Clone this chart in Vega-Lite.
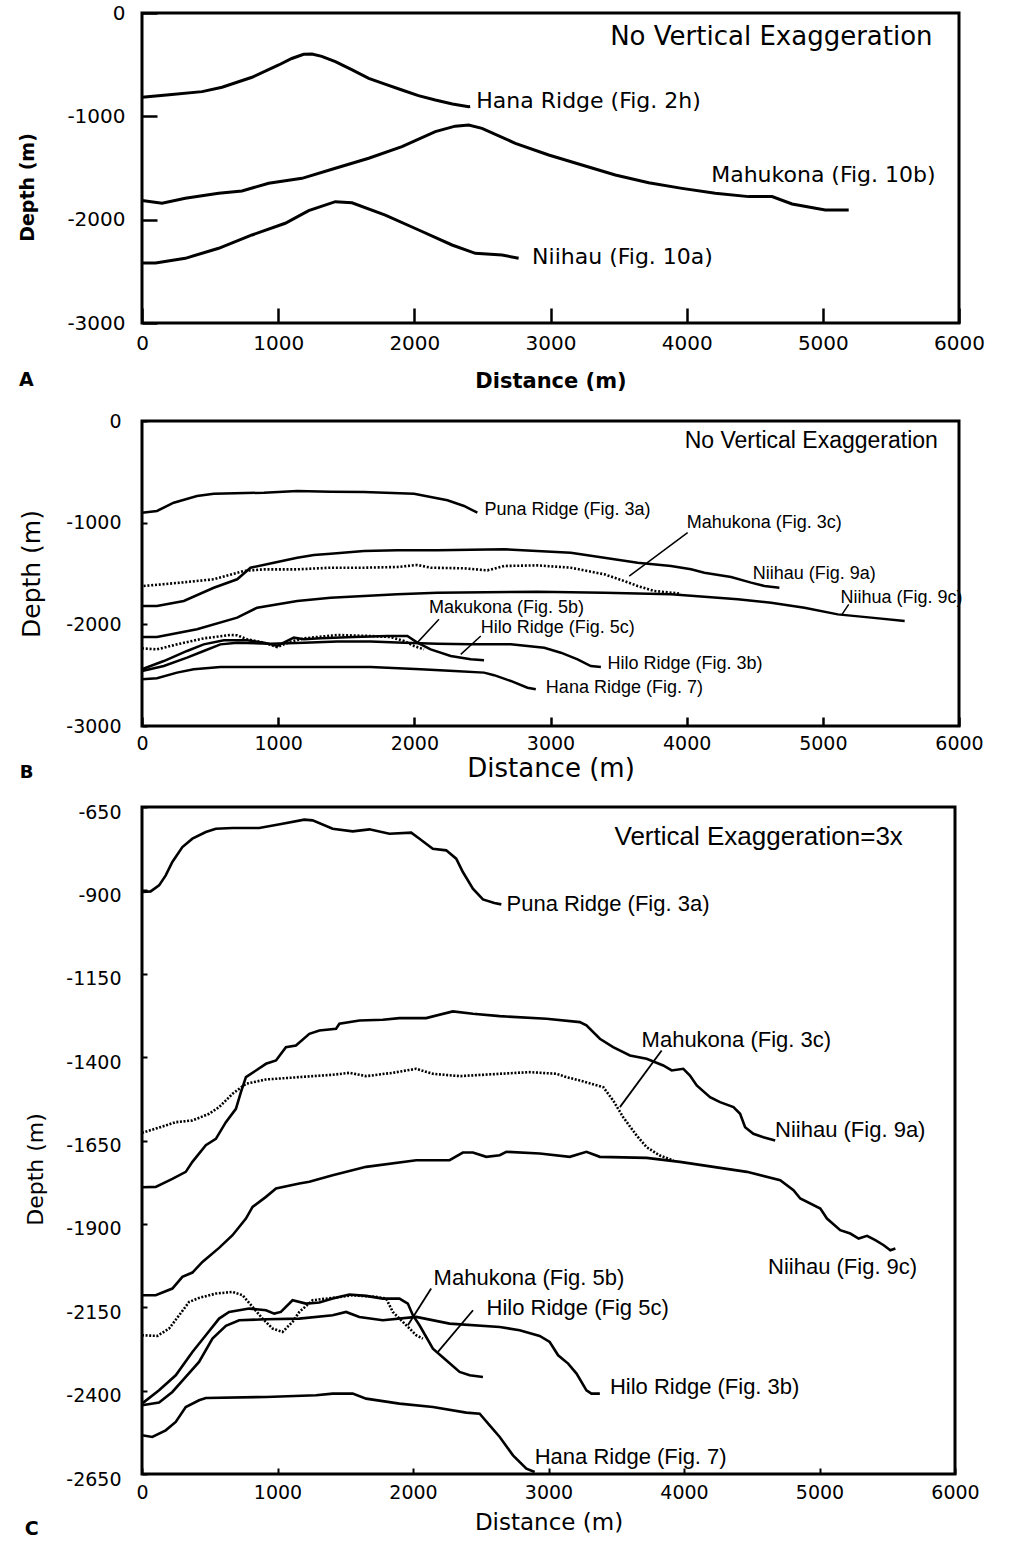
{
"$schema": "https://vega.github.io/schema/vega-lite/v6.json",
"background": "white",
"padding": {"left": 17, "top": 1, "right": 0, "bottom": 0},
"spacing": 17,
"config": {
  "view": {"stroke": "black", "strokeWidth": 3},
  "axis": {"grid": false, "domain": false, "labelColor": "black", "titleColor": "black", "tickColor": "black", "labelFlush": false, "labelOverlap": false, "titleFontWeight": "normal"},
  "title": {"color": "black"}
},
"datasets": {
  "A_profiles": [
    {"profile":"Hana Ridge (Fig. 2h)","distance":0,"depth":-815},{"profile":"Hana Ridge (Fig. 2h)","distance":200,"depth":-790},{"profile":"Hana Ridge (Fig. 2h)","distance":441,"depth":-761},{"profile":"Hana Ridge (Fig. 2h)","distance":588,"depth":-719},{"profile":"Hana Ridge (Fig. 2h)","distance":808,"depth":-622},{"profile":"Hana Ridge (Fig. 2h)","distance":1004,"depth":-503},{"profile":"Hana Ridge (Fig. 2h)","distance":1100,"depth":-440},{"profile":"Hana Ridge (Fig. 2h)","distance":1187,"depth":-400},{"profile":"Hana Ridge (Fig. 2h)","distance":1248,"depth":-397},{"profile":"Hana Ridge (Fig. 2h)","distance":1320,"depth":-420},{"profile":"Hana Ridge (Fig. 2h)","distance":1420,"depth":-471},{"profile":"Hana Ridge (Fig. 2h)","distance":1540,"depth":-548},{"profile":"Hana Ridge (Fig. 2h)","distance":1665,"depth":-632},{"profile":"Hana Ridge (Fig. 2h)","distance":1790,"depth":-690},{"profile":"Hana Ridge (Fig. 2h)","distance":1909,"depth":-745},{"profile":"Hana Ridge (Fig. 2h)","distance":2030,"depth":-800},{"profile":"Hana Ridge (Fig. 2h)","distance":2154,"depth":-842},{"profile":"Hana Ridge (Fig. 2h)","distance":2280,"depth":-880},{"profile":"Hana Ridge (Fig. 2h)","distance":2399,"depth":-907},{"profile":"Hana Ridge (Fig. 2h)","distance":2410,"depth":-905},
    {"profile":"Mahukona (Fig. 10b)","distance":0,"depth":-1815},{"profile":"Mahukona (Fig. 10b)","distance":147,"depth":-1842},{"profile":"Mahukona (Fig. 10b)","distance":318,"depth":-1793},{"profile":"Mahukona (Fig. 10b)","distance":563,"depth":-1745},{"profile":"Mahukona (Fig. 10b)","distance":734,"depth":-1722},{"profile":"Mahukona (Fig. 10b)","distance":930,"depth":-1648},{"profile":"Mahukona (Fig. 10b)","distance":1175,"depth":-1600},{"profile":"Mahukona (Fig. 10b)","distance":1420,"depth":-1503},{"profile":"Mahukona (Fig. 10b)","distance":1665,"depth":-1406},{"profile":"Mahukona (Fig. 10b)","distance":1909,"depth":-1294},{"profile":"Mahukona (Fig. 10b)","distance":2154,"depth":-1148},{"profile":"Mahukona (Fig. 10b)","distance":2300,"depth":-1095},{"profile":"Mahukona (Fig. 10b)","distance":2399,"depth":-1084},{"profile":"Mahukona (Fig. 10b)","distance":2497,"depth":-1116},{"profile":"Mahukona (Fig. 10b)","distance":2742,"depth":-1261},{"profile":"Mahukona (Fig. 10b)","distance":2987,"depth":-1374},{"profile":"Mahukona (Fig. 10b)","distance":3231,"depth":-1471},{"profile":"Mahukona (Fig. 10b)","distance":3476,"depth":-1568},{"profile":"Mahukona (Fig. 10b)","distance":3721,"depth":-1642},{"profile":"Mahukona (Fig. 10b)","distance":3966,"depth":-1697},{"profile":"Mahukona (Fig. 10b)","distance":4210,"depth":-1745},{"profile":"Mahukona (Fig. 10b)","distance":4455,"depth":-1777},{"profile":"Mahukona (Fig. 10b)","distance":4627,"depth":-1777},{"profile":"Mahukona (Fig. 10b)","distance":4774,"depth":-1848},{"profile":"Mahukona (Fig. 10b)","distance":5018,"depth":-1906},{"profile":"Mahukona (Fig. 10b)","distance":5190,"depth":-1906},
    {"profile":"Niihau (Fig. 10a)","distance":0,"depth":-2420},{"profile":"Niihau (Fig. 10a)","distance":100,"depth":-2420},{"profile":"Niihau (Fig. 10a)","distance":318,"depth":-2374},{"profile":"Niihau (Fig. 10a)","distance":563,"depth":-2277},{"profile":"Niihau (Fig. 10a)","distance":808,"depth":-2148},{"profile":"Niihau (Fig. 10a)","distance":1052,"depth":-2035},{"profile":"Niihau (Fig. 10a)","distance":1224,"depth":-1913},{"profile":"Niihau (Fig. 10a)","distance":1420,"depth":-1826},{"profile":"Niihau (Fig. 10a)","distance":1542,"depth":-1836},{"profile":"Niihau (Fig. 10a)","distance":1787,"depth":-1955},{"profile":"Niihau (Fig. 10a)","distance":2032,"depth":-2100},{"profile":"Niihau (Fig. 10a)","distance":2277,"depth":-2245},{"profile":"Niihau (Fig. 10a)","distance":2448,"depth":-2326},{"profile":"Niihau (Fig. 10a)","distance":2644,"depth":-2342},{"profile":"Niihau (Fig. 10a)","distance":2766,"depth":-2374}
  ],
  "A_labels": [
    {"label":"Hana Ridge (Fig. 2h)","distance":2455,"depth":-852},
    {"label":"Mahukona (Fig. 10b)","distance":4180,"depth":-1568},
    {"label":"Niihau (Fig. 10a)","distance":2865,"depth":-2360}
  ],
  "A_note": [{"label":"No Vertical Exaggeration","distance":4622,"depth":-232}],
  "B_profiles": [
    {"profile":"Puna Ridge (Fig. 3a)","distance":0,"depth":-902},{"profile":"Puna Ridge (Fig. 3a)","distance":110,"depth":-885},{"profile":"Puna Ridge (Fig. 3a)","distance":233,"depth":-804},{"profile":"Puna Ridge (Fig. 3a)","distance":404,"depth":-738},{"profile":"Puna Ridge (Fig. 3a)","distance":527,"depth":-715},{"profile":"Puna Ridge (Fig. 3a)","distance":895,"depth":-705},{"profile":"Puna Ridge (Fig. 3a)","distance":1140,"depth":-689},{"profile":"Puna Ridge (Fig. 3a)","distance":1385,"depth":-695},{"profile":"Puna Ridge (Fig. 3a)","distance":1630,"depth":-698},{"profile":"Puna Ridge (Fig. 3a)","distance":1998,"depth":-715},{"profile":"Puna Ridge (Fig. 3a)","distance":2120,"depth":-748},{"profile":"Puna Ridge (Fig. 3a)","distance":2243,"depth":-780},{"profile":"Puna Ridge (Fig. 3a)","distance":2365,"depth":-836},{"profile":"Puna Ridge (Fig. 3a)","distance":2463,"depth":-902},
    {"profile":"Niihau (Fig. 9a)","distance":0,"depth":-1820},{"profile":"Niihau (Fig. 9a)","distance":110,"depth":-1820},{"profile":"Niihau (Fig. 9a)","distance":307,"depth":-1770},{"profile":"Niihau (Fig. 9a)","distance":527,"depth":-1640},{"profile":"Niihau (Fig. 9a)","distance":699,"depth":-1557},{"profile":"Niihau (Fig. 9a)","distance":797,"depth":-1443},{"profile":"Niihau (Fig. 9a)","distance":968,"depth":-1394},{"profile":"Niihau (Fig. 9a)","distance":1140,"depth":-1345},{"profile":"Niihau (Fig. 9a)","distance":1262,"depth":-1318},{"profile":"Niihau (Fig. 9a)","distance":1385,"depth":-1305},{"profile":"Niihau (Fig. 9a)","distance":1630,"depth":-1279},{"profile":"Niihau (Fig. 9a)","distance":1875,"depth":-1272},{"profile":"Niihau (Fig. 9a)","distance":2169,"depth":-1272},{"profile":"Niihau (Fig. 9a)","distance":2660,"depth":-1262},{"profile":"Niihau (Fig. 9a)","distance":3149,"depth":-1295},{"profile":"Niihau (Fig. 9a)","distance":3395,"depth":-1345},{"profile":"Niihau (Fig. 9a)","distance":3640,"depth":-1394},{"profile":"Niihau (Fig. 9a)","distance":3885,"depth":-1426},{"profile":"Niihau (Fig. 9a)","distance":4032,"depth":-1459},{"profile":"Niihau (Fig. 9a)","distance":4130,"depth":-1492},{"profile":"Niihau (Fig. 9a)","distance":4326,"depth":-1534},{"profile":"Niihau (Fig. 9a)","distance":4473,"depth":-1590},{"profile":"Niihau (Fig. 9a)","distance":4571,"depth":-1623},{"profile":"Niihau (Fig. 9a)","distance":4681,"depth":-1640},
    {"profile":"Mahukona (Fig. 3c)","distance":12,"depth":-1623},{"profile":"Mahukona (Fig. 3c)","distance":282,"depth":-1590},{"profile":"Mahukona (Fig. 3c)","distance":527,"depth":-1557},{"profile":"Mahukona (Fig. 3c)","distance":748,"depth":-1475},{"profile":"Mahukona (Fig. 3c)","distance":895,"depth":-1459},{"profile":"Mahukona (Fig. 3c)","distance":1140,"depth":-1459},{"profile":"Mahukona (Fig. 3c)","distance":1385,"depth":-1443},{"profile":"Mahukona (Fig. 3c)","distance":1630,"depth":-1443},{"profile":"Mahukona (Fig. 3c)","distance":1875,"depth":-1436},{"profile":"Mahukona (Fig. 3c)","distance":2022,"depth":-1416},{"profile":"Mahukona (Fig. 3c)","distance":2120,"depth":-1443},{"profile":"Mahukona (Fig. 3c)","distance":2365,"depth":-1449},{"profile":"Mahukona (Fig. 3c)","distance":2537,"depth":-1469},{"profile":"Mahukona (Fig. 3c)","distance":2660,"depth":-1426},{"profile":"Mahukona (Fig. 3c)","distance":2904,"depth":-1420},{"profile":"Mahukona (Fig. 3c)","distance":3149,"depth":-1443},{"profile":"Mahukona (Fig. 3c)","distance":3395,"depth":-1508},{"profile":"Mahukona (Fig. 3c)","distance":3542,"depth":-1574},{"profile":"Mahukona (Fig. 3c)","distance":3640,"depth":-1623},{"profile":"Mahukona (Fig. 3c)","distance":3762,"depth":-1672},{"profile":"Mahukona (Fig. 3c)","distance":3958,"depth":-1698},
    {"profile":"Niihau (Fig. 9c)","distance":0,"depth":-2125},{"profile":"Niihau (Fig. 9c)","distance":110,"depth":-2125},{"profile":"Niihau (Fig. 9c)","distance":404,"depth":-2049},{"profile":"Niihau (Fig. 9c)","distance":699,"depth":-1934},{"profile":"Niihau (Fig. 9c)","distance":846,"depth":-1836},{"profile":"Niihau (Fig. 9c)","distance":1140,"depth":-1770},{"profile":"Niihau (Fig. 9c)","distance":1385,"depth":-1738},{"profile":"Niihau (Fig. 9c)","distance":1630,"depth":-1721},{"profile":"Niihau (Fig. 9c)","distance":1875,"depth":-1705},{"profile":"Niihau (Fig. 9c)","distance":2169,"depth":-1689},{"profile":"Niihau (Fig. 9c)","distance":2904,"depth":-1679},{"profile":"Niihau (Fig. 9c)","distance":3395,"depth":-1689},{"profile":"Niihau (Fig. 9c)","distance":3885,"depth":-1705},{"profile":"Niihau (Fig. 9c)","distance":4375,"depth":-1754},{"profile":"Niihau (Fig. 9c)","distance":4620,"depth":-1787},{"profile":"Niihau (Fig. 9c)","distance":4865,"depth":-1836},{"profile":"Niihau (Fig. 9c)","distance":5110,"depth":-1902},{"profile":"Niihau (Fig. 9c)","distance":5355,"depth":-1934},{"profile":"Niihau (Fig. 9c)","distance":5601,"depth":-1967},
    {"profile":"Mahukona (Fig. 5b)","distance":0,"depth":-2236},{"profile":"Mahukona (Fig. 5b)","distance":110,"depth":-2246},{"profile":"Mahukona (Fig. 5b)","distance":257,"depth":-2197},{"profile":"Mahukona (Fig. 5b)","distance":453,"depth":-2138},{"profile":"Mahukona (Fig. 5b)","distance":649,"depth":-2105},{"profile":"Mahukona (Fig. 5b)","distance":699,"depth":-2108},{"profile":"Mahukona (Fig. 5b)","distance":772,"depth":-2147},{"profile":"Mahukona (Fig. 5b)","distance":895,"depth":-2180},{"profile":"Mahukona (Fig. 5b)","distance":993,"depth":-2223},{"profile":"Mahukona (Fig. 5b)","distance":1091,"depth":-2171},{"profile":"Mahukona (Fig. 5b)","distance":1189,"depth":-2138},{"profile":"Mahukona (Fig. 5b)","distance":1434,"depth":-2105},{"profile":"Mahukona (Fig. 5b)","distance":1679,"depth":-2115},{"profile":"Mahukona (Fig. 5b)","distance":1826,"depth":-2125},{"profile":"Mahukona (Fig. 5b)","distance":1924,"depth":-2164},{"profile":"Mahukona (Fig. 5b)","distance":1998,"depth":-2213},{"profile":"Mahukona (Fig. 5b)","distance":2071,"depth":-2246},
    {"profile":"Hilo Ridge (Fig. 5c)","distance":0,"depth":-2442},{"profile":"Hilo Ridge (Fig. 5c)","distance":160,"depth":-2361},{"profile":"Hilo Ridge (Fig. 5c)","distance":331,"depth":-2262},{"profile":"Hilo Ridge (Fig. 5c)","distance":453,"depth":-2197},{"profile":"Hilo Ridge (Fig. 5c)","distance":601,"depth":-2157},{"profile":"Hilo Ridge (Fig. 5c)","distance":772,"depth":-2157},{"profile":"Hilo Ridge (Fig. 5c)","distance":895,"depth":-2180},{"profile":"Hilo Ridge (Fig. 5c)","distance":993,"depth":-2213},{"profile":"Hilo Ridge (Fig. 5c)","distance":1115,"depth":-2131},{"profile":"Hilo Ridge (Fig. 5c)","distance":1189,"depth":-2147},{"profile":"Hilo Ridge (Fig. 5c)","distance":1311,"depth":-2138},{"profile":"Hilo Ridge (Fig. 5c)","distance":1556,"depth":-2125},{"profile":"Hilo Ridge (Fig. 5c)","distance":1801,"depth":-2115},{"profile":"Hilo Ridge (Fig. 5c)","distance":1949,"depth":-2115},{"profile":"Hilo Ridge (Fig. 5c)","distance":2022,"depth":-2180},{"profile":"Hilo Ridge (Fig. 5c)","distance":2120,"depth":-2246},{"profile":"Hilo Ridge (Fig. 5c)","distance":2267,"depth":-2311},{"profile":"Hilo Ridge (Fig. 5c)","distance":2414,"depth":-2344},{"profile":"Hilo Ridge (Fig. 5c)","distance":2512,"depth":-2354},
    {"profile":"Hilo Ridge (Fig. 3b)","distance":0,"depth":-2459},{"profile":"Hilo Ridge (Fig. 3b)","distance":160,"depth":-2410},{"profile":"Hilo Ridge (Fig. 3b)","distance":331,"depth":-2328},{"profile":"Hilo Ridge (Fig. 3b)","distance":453,"depth":-2262},{"profile":"Hilo Ridge (Fig. 3b)","distance":576,"depth":-2197},{"profile":"Hilo Ridge (Fig. 3b)","distance":699,"depth":-2180},{"profile":"Hilo Ridge (Fig. 3b)","distance":943,"depth":-2190},{"profile":"Hilo Ridge (Fig. 3b)","distance":1189,"depth":-2180},{"profile":"Hilo Ridge (Fig. 3b)","distance":1434,"depth":-2170},{"profile":"Hilo Ridge (Fig. 3b)","distance":1679,"depth":-2170},{"profile":"Hilo Ridge (Fig. 3b)","distance":1924,"depth":-2180},{"profile":"Hilo Ridge (Fig. 3b)","distance":2169,"depth":-2190},{"profile":"Hilo Ridge (Fig. 3b)","distance":2414,"depth":-2197},{"profile":"Hilo Ridge (Fig. 3b)","distance":2708,"depth":-2197},{"profile":"Hilo Ridge (Fig. 3b)","distance":2954,"depth":-2230},{"profile":"Hilo Ridge (Fig. 3b)","distance":3076,"depth":-2279},{"profile":"Hilo Ridge (Fig. 3b)","distance":3199,"depth":-2344},{"profile":"Hilo Ridge (Fig. 3b)","distance":3296,"depth":-2410},{"profile":"Hilo Ridge (Fig. 3b)","distance":3370,"depth":-2420},
    {"profile":"Hana Ridge (Fig. 7)","distance":0,"depth":-2541},{"profile":"Hana Ridge (Fig. 7)","distance":110,"depth":-2531},{"profile":"Hana Ridge (Fig. 7)","distance":257,"depth":-2475},{"profile":"Hana Ridge (Fig. 7)","distance":380,"depth":-2442},{"profile":"Hana Ridge (Fig. 7)","distance":576,"depth":-2420},{"profile":"Hana Ridge (Fig. 7)","distance":943,"depth":-2420},{"profile":"Hana Ridge (Fig. 7)","distance":1434,"depth":-2420},{"profile":"Hana Ridge (Fig. 7)","distance":1679,"depth":-2420},{"profile":"Hana Ridge (Fig. 7)","distance":2047,"depth":-2442},{"profile":"Hana Ridge (Fig. 7)","distance":2292,"depth":-2459},{"profile":"Hana Ridge (Fig. 7)","distance":2512,"depth":-2475},{"profile":"Hana Ridge (Fig. 7)","distance":2586,"depth":-2500},{"profile":"Hana Ridge (Fig. 7)","distance":2708,"depth":-2557},{"profile":"Hana Ridge (Fig. 7)","distance":2831,"depth":-2623},{"profile":"Hana Ridge (Fig. 7)","distance":2892,"depth":-2639}
  ],
  "B_labels": [
    {"label":"Puna Ridge (Fig. 3a)","distance":2515,"depth":-878},
    {"label":"Mahukona (Fig. 3c)","distance":4000,"depth":-1006},
    {"label":"Niihau (Fig. 9a)","distance":4485,"depth":-1508},
    {"label":"Niihua (Fig. 9c)","distance":5130,"depth":-1738},
    {"label":"Makukona (Fig. 5b)","distance":2108,"depth":-1836},
    {"label":"Hilo Ridge (Fig. 5c)","distance":2488,"depth":-2033},
    {"label":"Hilo Ridge (Fig. 3b)","distance":3419,"depth":-2393},
    {"label":"Hana Ridge (Fig. 7)","distance":2966,"depth":-2623}
  ],
  "B_note": [{"label":"No Vertical Exaggeration","distance":4915,"depth":-197}],
  "B_leaders": [
    {"distance":4007,"depth":-1098,"distance2":3578,"depth2":-1525},
    {"distance":5190,"depth":-1803,"distance2":5141,"depth2":-1902},
    {"distance":2181,"depth":-1951,"distance2":2022,"depth2":-2180},
    {"distance":2488,"depth":-2115,"distance2":2341,"depth2":-2295}
  ],
  "C_profiles": [
    {"profile":"Puna Ridge (Fig. 3a)","distance":0,"depth":-905},{"profile":"Puna Ridge (Fig. 3a)","distance":64,"depth":-903},{"profile":"Puna Ridge (Fig. 3a)","distance":126,"depth":-885},{"profile":"Puna Ridge (Fig. 3a)","distance":175,"depth":-855},{"profile":"Puna Ridge (Fig. 3a)","distance":224,"depth":-815},{"profile":"Puna Ridge (Fig. 3a)","distance":298,"depth":-770},{"profile":"Puna Ridge (Fig. 3a)","distance":372,"depth":-745},{"profile":"Puna Ridge (Fig. 3a)","distance":471,"depth":-725},{"profile":"Puna Ridge (Fig. 3a)","distance":545,"depth":-715},{"profile":"Puna Ridge (Fig. 3a)","distance":668,"depth":-713},{"profile":"Puna Ridge (Fig. 3a)","distance":865,"depth":-713},{"profile":"Puna Ridge (Fig. 3a)","distance":1037,"depth":-700},{"profile":"Puna Ridge (Fig. 3a)","distance":1198,"depth":-688},{"profile":"Puna Ridge (Fig. 3a)","distance":1259,"depth":-690},{"profile":"Puna Ridge (Fig. 3a)","distance":1407,"depth":-715},{"profile":"Puna Ridge (Fig. 3a)","distance":1555,"depth":-723},{"profile":"Puna Ridge (Fig. 3a)","distance":1678,"depth":-717},{"profile":"Puna Ridge (Fig. 3a)","distance":1826,"depth":-730},{"profile":"Puna Ridge (Fig. 3a)","distance":1987,"depth":-727},{"profile":"Puna Ridge (Fig. 3a)","distance":2048,"depth":-745},{"profile":"Puna Ridge (Fig. 3a)","distance":2146,"depth":-775},{"profile":"Puna Ridge (Fig. 3a)","distance":2245,"depth":-780},{"profile":"Puna Ridge (Fig. 3a)","distance":2319,"depth":-805},{"profile":"Puna Ridge (Fig. 3a)","distance":2368,"depth":-845},{"profile":"Puna Ridge (Fig. 3a)","distance":2442,"depth":-895},{"profile":"Puna Ridge (Fig. 3a)","distance":2516,"depth":-927},{"profile":"Puna Ridge (Fig. 3a)","distance":2600,"depth":-938},{"profile":"Puna Ridge (Fig. 3a)","distance":2652,"depth":-942},
    {"profile":"Niihau (Fig. 9a)","distance":0,"depth":-1790},{"profile":"Niihau (Fig. 9a)","distance":101,"depth":-1789},{"profile":"Niihau (Fig. 9a)","distance":224,"depth":-1765},{"profile":"Niihau (Fig. 9a)","distance":323,"depth":-1744},{"profile":"Niihau (Fig. 9a)","distance":372,"depth":-1714},{"profile":"Niihau (Fig. 9a)","distance":471,"depth":-1664},{"profile":"Niihau (Fig. 9a)","distance":545,"depth":-1645},{"profile":"Niihau (Fig. 9a)","distance":619,"depth":-1595},{"profile":"Niihau (Fig. 9a)","distance":693,"depth":-1555},{"profile":"Niihau (Fig. 9a)","distance":730,"depth":-1505},{"profile":"Niihau (Fig. 9a)","distance":767,"depth":-1460},{"profile":"Niihau (Fig. 9a)","distance":841,"depth":-1440},{"profile":"Niihau (Fig. 9a)","distance":915,"depth":-1420},{"profile":"Niihau (Fig. 9a)","distance":989,"depth":-1410},{"profile":"Niihau (Fig. 9a)","distance":1062,"depth":-1370},{"profile":"Niihau (Fig. 9a)","distance":1136,"depth":-1365},{"profile":"Niihau (Fig. 9a)","distance":1235,"depth":-1330},{"profile":"Niihau (Fig. 9a)","distance":1309,"depth":-1320},{"profile":"Niihau (Fig. 9a)","distance":1432,"depth":-1315},{"profile":"Niihau (Fig. 9a)","distance":1457,"depth":-1300},{"profile":"Niihau (Fig. 9a)","distance":1605,"depth":-1290},{"profile":"Niihau (Fig. 9a)","distance":1777,"depth":-1288},{"profile":"Niihau (Fig. 9a)","distance":1900,"depth":-1283},{"profile":"Niihau (Fig. 9a)","distance":2097,"depth":-1283},{"profile":"Niihau (Fig. 9a)","distance":2294,"depth":-1263},{"profile":"Niihau (Fig. 9a)","distance":2442,"depth":-1270},{"profile":"Niihau (Fig. 9a)","distance":2640,"depth":-1277},{"profile":"Niihau (Fig. 9a)","distance":2985,"depth":-1285},{"profile":"Niihau (Fig. 9a)","distance":3231,"depth":-1295},{"profile":"Niihau (Fig. 9a)","distance":3280,"depth":-1305},{"profile":"Niihau (Fig. 9a)","distance":3379,"depth":-1345},{"profile":"Niihau (Fig. 9a)","distance":3477,"depth":-1370},{"profile":"Niihau (Fig. 9a)","distance":3601,"depth":-1395},{"profile":"Niihau (Fig. 9a)","distance":3724,"depth":-1405},{"profile":"Niihau (Fig. 9a)","distance":3847,"depth":-1425},{"profile":"Niihau (Fig. 9a)","distance":3909,"depth":-1440},{"profile":"Niihau (Fig. 9a)","distance":3995,"depth":-1435},{"profile":"Niihau (Fig. 9a)","distance":4044,"depth":-1455},{"profile":"Niihau (Fig. 9a)","distance":4094,"depth":-1485},{"profile":"Niihau (Fig. 9a)","distance":4192,"depth":-1520},{"profile":"Niihau (Fig. 9a)","distance":4266,"depth":-1535},{"profile":"Niihau (Fig. 9a)","distance":4365,"depth":-1550},{"profile":"Niihau (Fig. 9a)","distance":4414,"depth":-1570},{"profile":"Niihau (Fig. 9a)","distance":4451,"depth":-1610},{"profile":"Niihau (Fig. 9a)","distance":4512,"depth":-1630},{"profile":"Niihau (Fig. 9a)","distance":4586,"depth":-1640},{"profile":"Niihau (Fig. 9a)","distance":4673,"depth":-1650},
    {"profile":"Mahukona (Fig. 3c)","distance":0,"depth":-1627},{"profile":"Mahukona (Fig. 3c)","distance":175,"depth":-1605},{"profile":"Mahukona (Fig. 3c)","distance":249,"depth":-1595},{"profile":"Mahukona (Fig. 3c)","distance":372,"depth":-1590},{"profile":"Mahukona (Fig. 3c)","distance":495,"depth":-1570},{"profile":"Mahukona (Fig. 3c)","distance":569,"depth":-1550},{"profile":"Mahukona (Fig. 3c)","distance":668,"depth":-1510},{"profile":"Mahukona (Fig. 3c)","distance":767,"depth":-1480},{"profile":"Mahukona (Fig. 3c)","distance":915,"depth":-1467},{"profile":"Mahukona (Fig. 3c)","distance":1161,"depth":-1460},{"profile":"Mahukona (Fig. 3c)","distance":1407,"depth":-1453},{"profile":"Mahukona (Fig. 3c)","distance":1531,"depth":-1447},{"profile":"Mahukona (Fig. 3c)","distance":1654,"depth":-1457},{"profile":"Mahukona (Fig. 3c)","distance":1851,"depth":-1447},{"profile":"Mahukona (Fig. 3c)","distance":2024,"depth":-1435},{"profile":"Mahukona (Fig. 3c)","distance":2146,"depth":-1450},{"profile":"Mahukona (Fig. 3c)","distance":2344,"depth":-1457},{"profile":"Mahukona (Fig. 3c)","distance":2640,"depth":-1450},{"profile":"Mahukona (Fig. 3c)","distance":2861,"depth":-1445},{"profile":"Mahukona (Fig. 3c)","distance":3059,"depth":-1450},{"profile":"Mahukona (Fig. 3c)","distance":3133,"depth":-1460},{"profile":"Mahukona (Fig. 3c)","distance":3231,"depth":-1470},{"profile":"Mahukona (Fig. 3c)","distance":3404,"depth":-1490},{"profile":"Mahukona (Fig. 3c)","distance":3477,"depth":-1530},{"profile":"Mahukona (Fig. 3c)","distance":3551,"depth":-1580},{"profile":"Mahukona (Fig. 3c)","distance":3650,"depth":-1635},{"profile":"Mahukona (Fig. 3c)","distance":3724,"depth":-1670},{"profile":"Mahukona (Fig. 3c)","distance":3822,"depth":-1695},{"profile":"Mahukona (Fig. 3c)","distance":3921,"depth":-1710},
    {"profile":"Niihau (Fig. 9c)","distance":0,"depth":-2114},{"profile":"Niihau (Fig. 9c)","distance":101,"depth":-2114},{"profile":"Niihau (Fig. 9c)","distance":224,"depth":-2094},{"profile":"Niihau (Fig. 9c)","distance":298,"depth":-2059},{"profile":"Niihau (Fig. 9c)","distance":372,"depth":-2046},{"profile":"Niihau (Fig. 9c)","distance":446,"depth":-2014},{"profile":"Niihau (Fig. 9c)","distance":569,"depth":-1972},{"profile":"Niihau (Fig. 9c)","distance":668,"depth":-1934},{"profile":"Niihau (Fig. 9c)","distance":767,"depth":-1884},{"profile":"Niihau (Fig. 9c)","distance":816,"depth":-1849},{"profile":"Niihau (Fig. 9c)","distance":915,"depth":-1819},{"profile":"Niihau (Fig. 9c)","distance":989,"depth":-1794},{"profile":"Niihau (Fig. 9c)","distance":1161,"depth":-1779},{"profile":"Niihau (Fig. 9c)","distance":1235,"depth":-1774},{"profile":"Niihau (Fig. 9c)","distance":1407,"depth":-1754},{"profile":"Niihau (Fig. 9c)","distance":1654,"depth":-1729},{"profile":"Niihau (Fig. 9c)","distance":2024,"depth":-1709},{"profile":"Niihau (Fig. 9c)","distance":2270,"depth":-1709},{"profile":"Niihau (Fig. 9c)","distance":2368,"depth":-1686},{"profile":"Niihau (Fig. 9c)","distance":2442,"depth":-1686},{"profile":"Niihau (Fig. 9c)","distance":2541,"depth":-1699},{"profile":"Niihau (Fig. 9c)","distance":2640,"depth":-1694},{"profile":"Niihau (Fig. 9c)","distance":2689,"depth":-1684},{"profile":"Niihau (Fig. 9c)","distance":2935,"depth":-1689},{"profile":"Niihau (Fig. 9c)","distance":3157,"depth":-1699},{"profile":"Niihau (Fig. 9c)","distance":3280,"depth":-1684},{"profile":"Niihau (Fig. 9c)","distance":3379,"depth":-1699},{"profile":"Niihau (Fig. 9c)","distance":3724,"depth":-1702},{"profile":"Niihau (Fig. 9c)","distance":3970,"depth":-1714},{"profile":"Niihau (Fig. 9c)","distance":4217,"depth":-1729},{"profile":"Niihau (Fig. 9c)","distance":4464,"depth":-1744},{"profile":"Niihau (Fig. 9c)","distance":4710,"depth":-1769},{"profile":"Niihau (Fig. 9c)","distance":4808,"depth":-1799},{"profile":"Niihau (Fig. 9c)","distance":4858,"depth":-1824},{"profile":"Niihau (Fig. 9c)","distance":5006,"depth":-1854},{"profile":"Niihau (Fig. 9c)","distance":5055,"depth":-1884},{"profile":"Niihau (Fig. 9c)","distance":5153,"depth":-1919},{"profile":"Niihau (Fig. 9c)","distance":5227,"depth":-1929},{"profile":"Niihau (Fig. 9c)","distance":5289,"depth":-1944},{"profile":"Niihau (Fig. 9c)","distance":5351,"depth":-1936},{"profile":"Niihau (Fig. 9c)","distance":5412,"depth":-1949},{"profile":"Niihau (Fig. 9c)","distance":5474,"depth":-1964},{"profile":"Niihau (Fig. 9c)","distance":5523,"depth":-1979},{"profile":"Niihau (Fig. 9c)","distance":5560,"depth":-1974},
    {"profile":"Mahukona (Fig. 5b)","distance":0,"depth":-2234},{"profile":"Mahukona (Fig. 5b)","distance":113,"depth":-2236},{"profile":"Mahukona (Fig. 5b)","distance":200,"depth":-2214},{"profile":"Mahukona (Fig. 5b)","distance":274,"depth":-2174},{"profile":"Mahukona (Fig. 5b)","distance":348,"depth":-2134},{"profile":"Mahukona (Fig. 5b)","distance":421,"depth":-2122},{"profile":"Mahukona (Fig. 5b)","distance":545,"depth":-2109},{"profile":"Mahukona (Fig. 5b)","distance":668,"depth":-2104},{"profile":"Mahukona (Fig. 5b)","distance":742,"depth":-2114},{"profile":"Mahukona (Fig. 5b)","distance":816,"depth":-2149},{"profile":"Mahukona (Fig. 5b)","distance":890,"depth":-2184},{"profile":"Mahukona (Fig. 5b)","distance":964,"depth":-2214},{"profile":"Mahukona (Fig. 5b)","distance":1037,"depth":-2224},{"profile":"Mahukona (Fig. 5b)","distance":1111,"depth":-2194},{"profile":"Mahukona (Fig. 5b)","distance":1161,"depth":-2164},{"profile":"Mahukona (Fig. 5b)","distance":1259,"depth":-2129},{"profile":"Mahukona (Fig. 5b)","distance":1407,"depth":-2122},{"profile":"Mahukona (Fig. 5b)","distance":1555,"depth":-2114},{"profile":"Mahukona (Fig. 5b)","distance":1728,"depth":-2119},{"profile":"Mahukona (Fig. 5b)","distance":1802,"depth":-2124},{"profile":"Mahukona (Fig. 5b)","distance":1851,"depth":-2164},{"profile":"Mahukona (Fig. 5b)","distance":1950,"depth":-2204},{"profile":"Mahukona (Fig. 5b)","distance":2024,"depth":-2234},{"profile":"Mahukona (Fig. 5b)","distance":2073,"depth":-2244},
    {"profile":"Hilo Ridge (Fig. 5c)","distance":0,"depth":-2439},{"profile":"Hilo Ridge (Fig. 5c)","distance":126,"depth":-2399},{"profile":"Hilo Ridge (Fig. 5c)","distance":249,"depth":-2354},{"profile":"Hilo Ridge (Fig. 5c)","distance":372,"depth":-2284},{"profile":"Hilo Ridge (Fig. 5c)","distance":471,"depth":-2234},{"profile":"Hilo Ridge (Fig. 5c)","distance":569,"depth":-2184},{"profile":"Hilo Ridge (Fig. 5c)","distance":643,"depth":-2164},{"profile":"Hilo Ridge (Fig. 5c)","distance":791,"depth":-2154},{"profile":"Hilo Ridge (Fig. 5c)","distance":915,"depth":-2159},{"profile":"Hilo Ridge (Fig. 5c)","distance":976,"depth":-2169},{"profile":"Hilo Ridge (Fig. 5c)","distance":1025,"depth":-2164},{"profile":"Hilo Ridge (Fig. 5c)","distance":1111,"depth":-2129},{"profile":"Hilo Ridge (Fig. 5c)","distance":1210,"depth":-2139},{"profile":"Hilo Ridge (Fig. 5c)","distance":1309,"depth":-2136},{"profile":"Hilo Ridge (Fig. 5c)","distance":1407,"depth":-2124},{"profile":"Hilo Ridge (Fig. 5c)","distance":1530,"depth":-2112},{"profile":"Hilo Ridge (Fig. 5c)","distance":1654,"depth":-2116},{"profile":"Hilo Ridge (Fig. 5c)","distance":1777,"depth":-2124},{"profile":"Hilo Ridge (Fig. 5c)","distance":1900,"depth":-2124},{"profile":"Hilo Ridge (Fig. 5c)","distance":1962,"depth":-2139},{"profile":"Hilo Ridge (Fig. 5c)","distance":1999,"depth":-2174},{"profile":"Hilo Ridge (Fig. 5c)","distance":2048,"depth":-2204},{"profile":"Hilo Ridge (Fig. 5c)","distance":2147,"depth":-2274},{"profile":"Hilo Ridge (Fig. 5c)","distance":2245,"depth":-2309},{"profile":"Hilo Ridge (Fig. 5c)","distance":2344,"depth":-2344},{"profile":"Hilo Ridge (Fig. 5c)","distance":2418,"depth":-2354},{"profile":"Hilo Ridge (Fig. 5c)","distance":2516,"depth":-2359},
    {"profile":"Hilo Ridge (Fig. 3b)","distance":0,"depth":-2444},{"profile":"Hilo Ridge (Fig. 3b)","distance":126,"depth":-2436},{"profile":"Hilo Ridge (Fig. 3b)","distance":224,"depth":-2404},{"profile":"Hilo Ridge (Fig. 3b)","distance":323,"depth":-2359},{"profile":"Hilo Ridge (Fig. 3b)","distance":421,"depth":-2314},{"profile":"Hilo Ridge (Fig. 3b)","distance":520,"depth":-2244},{"profile":"Hilo Ridge (Fig. 3b)","distance":619,"depth":-2206},{"profile":"Hilo Ridge (Fig. 3b)","distance":717,"depth":-2189},{"profile":"Hilo Ridge (Fig. 3b)","distance":915,"depth":-2186},{"profile":"Hilo Ridge (Fig. 3b)","distance":1161,"depth":-2184},{"profile":"Hilo Ridge (Fig. 3b)","distance":1407,"depth":-2174},{"profile":"Hilo Ridge (Fig. 3b)","distance":1506,"depth":-2164},{"profile":"Hilo Ridge (Fig. 3b)","distance":1604,"depth":-2179},{"profile":"Hilo Ridge (Fig. 3b)","distance":1777,"depth":-2189},{"profile":"Hilo Ridge (Fig. 3b)","distance":2024,"depth":-2179},{"profile":"Hilo Ridge (Fig. 3b)","distance":2270,"depth":-2199},{"profile":"Hilo Ridge (Fig. 3b)","distance":2640,"depth":-2209},{"profile":"Hilo Ridge (Fig. 3b)","distance":2787,"depth":-2219},{"profile":"Hilo Ridge (Fig. 3b)","distance":2935,"depth":-2236},{"profile":"Hilo Ridge (Fig. 3b)","distance":3009,"depth":-2254},{"profile":"Hilo Ridge (Fig. 3b)","distance":3071,"depth":-2294},{"profile":"Hilo Ridge (Fig. 3b)","distance":3145,"depth":-2319},{"profile":"Hilo Ridge (Fig. 3b)","distance":3207,"depth":-2349},{"profile":"Hilo Ridge (Fig. 3b)","distance":3280,"depth":-2399},{"profile":"Hilo Ridge (Fig. 3b)","distance":3317,"depth":-2409},{"profile":"Hilo Ridge (Fig. 3b)","distance":3379,"depth":-2409},
    {"profile":"Hana Ridge (Fig. 7)","distance":0,"depth":-2534},{"profile":"Hana Ridge (Fig. 7)","distance":76,"depth":-2539},{"profile":"Hana Ridge (Fig. 7)","distance":175,"depth":-2519},{"profile":"Hana Ridge (Fig. 7)","distance":249,"depth":-2494},{"profile":"Hana Ridge (Fig. 7)","distance":323,"depth":-2449},{"profile":"Hana Ridge (Fig. 7)","distance":421,"depth":-2429},{"profile":"Hana Ridge (Fig. 7)","distance":471,"depth":-2422},{"profile":"Hana Ridge (Fig. 7)","distance":915,"depth":-2419},{"profile":"Hana Ridge (Fig. 7)","distance":1284,"depth":-2414},{"profile":"Hana Ridge (Fig. 7)","distance":1407,"depth":-2409},{"profile":"Hana Ridge (Fig. 7)","distance":1555,"depth":-2409},{"profile":"Hana Ridge (Fig. 7)","distance":1654,"depth":-2424},{"profile":"Hana Ridge (Fig. 7)","distance":1900,"depth":-2439},{"profile":"Hana Ridge (Fig. 7)","distance":2147,"depth":-2449},{"profile":"Hana Ridge (Fig. 7)","distance":2393,"depth":-2466},{"profile":"Hana Ridge (Fig. 7)","distance":2492,"depth":-2469},{"profile":"Hana Ridge (Fig. 7)","distance":2566,"depth":-2504},{"profile":"Hana Ridge (Fig. 7)","distance":2640,"depth":-2539},{"profile":"Hana Ridge (Fig. 7)","distance":2738,"depth":-2594},{"profile":"Hana Ridge (Fig. 7)","distance":2837,"depth":-2634},{"profile":"Hana Ridge (Fig. 7)","distance":2898,"depth":-2644}
  ],
  "C_labels": [
    {"label":"Puna Ridge (Fig. 3a)","distance":2690,"depth":-940},
    {"label":"Mahukona (Fig. 3c)","distance":3687,"depth":-1350},
    {"label":"Niihau (Fig. 9a)","distance":4672,"depth":-1619},
    {"label":"Niihau (Fig. 9c)","distance":4620,"depth":-2029},
    {"label":"Mahukona (Fig. 5b)","distance":2152,"depth":-2062},
    {"label":"Hilo Ridge (Fig 5c)","distance":2543,"depth":-2152},
    {"label":"Hilo Ridge (Fig. 3b)","distance":3453,"depth":-2389},
    {"label":"Hana Ridge (Fig. 7)","distance":2898,"depth":-2599}
  ],
  "C_note": [{"label":"Vertical Exaggeration=3x","distance":4551,"depth":-740}],
  "C_leaders": [
    {"distance":3835,"depth":-1380,"distance2":3527,"depth2":-1550},
    {"distance":2134,"depth":-2094,"distance2":1962,"depth2":-2204},
    {"distance":2443,"depth":-2159,"distance2":2184,"depth2":-2284}
  ]
},
"vconcat": [
  {
    "width": 817, "height": 310,
    "title": {"text": "A", "orient": "bottom", "anchor": "start", "frame": "bounds", "offset": -20, "font": "DejaVu Sans", "fontSize": 19, "fontWeight": "bold"},
    "layer": [
      {"data": {"name": "A_profiles"},
       "mark": {"type": "line", "color": "black", "strokeWidth": 3},
       "encoding": {
         "x": {"field": "distance", "type": "quantitative", "scale": {"domain": [0, 6000], "nice": false, "zero": false},
               "axis": {"title": "Distance (m)", "titleFont": "DejaVu Sans", "titleFontSize": 21, "titleFontWeight": "bold", "titlePadding": 17, "labelFont": "DejaVu Sans", "labelFontSize": 20, "labelPadding": 25, "tickSize": -15, "tickWidth": 2.5, "values": [0,1000,2000,3000,4000,5000,6000], "labelExpr": "'' + datum.value"}},
         "y": {"field": "depth", "type": "quantitative", "scale": {"domain": [-3000, 0], "nice": false, "zero": false},
               "axis": {"title": "Depth (m)", "titleFont": "DejaVu Sans", "titleFontSize": 19, "titleFontWeight": "bold", "titlePadding": 29, "titleY": 174, "labelFont": "DejaVu Sans", "labelFontSize": 20, "labelPadding": 32, "tickSize": -15, "tickWidth": 2.5, "values": [0,-1000,-2000,-3000], "labelExpr": "datum.value < 0 ? '-' + (-datum.value) : '' + datum.value"}},
         "detail": {"field": "profile"}
       }},
      {"data": {"name": "A_labels"},
       "mark": {"type": "text", "align": "left", "baseline": "middle", "font": "DejaVu Sans", "fontSize": 22, "color": "black"},
       "encoding": {"x": {"field": "distance", "type": "quantitative"}, "y": {"field": "depth", "type": "quantitative"}, "text": {"field": "label"}}},
      {"data": {"name": "A_note"},
       "mark": {"type": "text", "align": "center", "baseline": "middle", "font": "DejaVu Sans", "fontSize": 26, "color": "black"},
       "encoding": {"x": {"field": "distance", "type": "quantitative"}, "y": {"field": "depth", "type": "quantitative"}, "text": {"field": "label"}}}
    ]
  },
  {
    "width": 817, "height": 305,
    "title": {"text": "B", "orient": "bottom", "anchor": "start", "frame": "bounds", "offset": -17, "font": "DejaVu Sans", "fontSize": 18, "fontWeight": "bold"},
    "layer": [
      {"data": {"name": "B_profiles"},
       "transform": [{"filter": {"not": {"field": "profile", "oneOf": ["Mahukona (Fig. 3c)", "Mahukona (Fig. 5b)"]}}}],
       "mark": {"type": "line", "color": "black", "strokeWidth": 2.5},
       "encoding": {
         "x": {"field": "distance", "type": "quantitative", "scale": {"domain": [0, 6000], "nice": false, "zero": false},
               "axis": {"title": "Distance (m)", "titleFont": "DejaVu Sans", "titleFontSize": 26, "titlePadding": 2, "labelFont": "DejaVu Sans", "labelFontSize": 19, "labelPadding": 17, "tickSize": -9, "tickWidth": 2.5, "values": [0,1000,2000,3000,4000,5000,6000], "labelExpr": "'' + datum.value"}},
         "y": {"field": "depth", "type": "quantitative", "scale": {"domain": [-3000, 0], "nice": false, "zero": false},
               "axis": {"title": "Depth (m)", "titleFont": "DejaVu Sans", "titleFontSize": 25, "titlePadding": 21, "labelFont": "DejaVu Sans", "labelFontSize": 19, "labelPadding": 26, "tickSize": -5, "tickWidth": 2, "values": [0,-1000,-2000,-3000], "labelExpr": "datum.value < 0 ? '-' + (-datum.value) : '' + datum.value"}},
         "detail": {"field": "profile"}
       }},
      {"data": {"name": "B_profiles"},
       "transform": [{"filter": {"field": "profile", "oneOf": ["Mahukona (Fig. 3c)", "Mahukona (Fig. 5b)"]}}],
       "mark": {"type": "line", "color": "black", "strokeWidth": 2.6, "strokeDash": [2, 1.8]},
       "encoding": {"x": {"field": "distance", "type": "quantitative"}, "y": {"field": "depth", "type": "quantitative"}, "detail": {"field": "profile"}}},
      {"data": {"name": "B_leaders"},
       "mark": {"type": "rule", "color": "black", "strokeWidth": 1.5},
       "encoding": {"x": {"field": "distance", "type": "quantitative"}, "y": {"field": "depth", "type": "quantitative"}, "x2": {"field": "distance2"}, "y2": {"field": "depth2"}}},
      {"data": {"name": "B_labels"},
       "mark": {"type": "text", "align": "left", "baseline": "middle", "font": "Liberation Sans", "fontSize": 18, "color": "black"},
       "encoding": {"x": {"field": "distance", "type": "quantitative"}, "y": {"field": "depth", "type": "quantitative"}, "text": {"field": "label"}}},
      {"data": {"name": "B_note"},
       "mark": {"type": "text", "align": "center", "baseline": "middle", "font": "Liberation Sans", "fontSize": 23, "color": "black"},
       "encoding": {"x": {"field": "distance", "type": "quantitative"}, "y": {"field": "depth", "type": "quantitative"}, "text": {"field": "label"}}}
    ]
  },
  {
    "width": 813, "height": 667,
    "title": {"text": "C", "orient": "bottom", "anchor": "start", "frame": "bounds", "offset": -14, "font": "DejaVu Sans", "fontSize": 19, "fontWeight": "bold"},
    "layer": [
      {"data": {"name": "C_profiles"},
       "transform": [{"filter": {"not": {"field": "profile", "oneOf": ["Mahukona (Fig. 3c)", "Mahukona (Fig. 5b)"]}}}],
       "mark": {"type": "line", "color": "black", "strokeWidth": 2.6},
       "encoding": {
         "x": {"field": "distance", "type": "quantitative", "scale": {"domain": [0, 6000], "nice": false, "zero": false},
               "axis": {"title": "Distance (m)", "titleFont": "DejaVu Sans", "titleFontSize": 23, "titlePadding": 9, "labelFont": "DejaVu Sans", "labelFontSize": 19, "labelPadding": 15, "tickSize": -6, "tickWidth": 2, "values": [0,1000,2000,3000,4000,5000,6000], "labelExpr": "'' + datum.value"}},
         "y": {"field": "depth", "type": "quantitative", "scale": {"domain": [-2650, -650], "nice": false, "zero": false},
               "axis": {"title": "Depth (m)", "titleFont": "DejaVu Sans", "titleFontSize": 22, "titlePadding": 18, "titleY": 362, "labelFont": "DejaVu Sans", "labelFontSize": 19, "labelPadding": 26, "labelOffset": 5, "tickSize": -5, "tickWidth": 2, "values": [-650,-900,-1150,-1400,-1650,-1900,-2150,-2400,-2650], "labelExpr": "datum.value < 0 ? '-' + (-datum.value) : '' + datum.value"}},
         "detail": {"field": "profile"}
       }},
      {"data": {"name": "C_profiles"},
       "transform": [{"filter": {"field": "profile", "oneOf": ["Mahukona (Fig. 3c)", "Mahukona (Fig. 5b)"]}}],
       "mark": {"type": "line", "color": "black", "strokeWidth": 2.6, "strokeDash": [2, 1.6]},
       "encoding": {"x": {"field": "distance", "type": "quantitative"}, "y": {"field": "depth", "type": "quantitative"}, "detail": {"field": "profile"}}},
      {"data": {"name": "C_leaders"},
       "mark": {"type": "rule", "color": "black", "strokeWidth": 1.8},
       "encoding": {"x": {"field": "distance", "type": "quantitative"}, "y": {"field": "depth", "type": "quantitative"}, "x2": {"field": "distance2"}, "y2": {"field": "depth2"}}},
      {"data": {"name": "C_labels"},
       "mark": {"type": "text", "align": "left", "baseline": "middle", "font": "Liberation Sans", "fontSize": 22, "color": "black"},
       "encoding": {"x": {"field": "distance", "type": "quantitative"}, "y": {"field": "depth", "type": "quantitative"}, "text": {"field": "label"}}},
      {"data": {"name": "C_note"},
       "mark": {"type": "text", "align": "center", "baseline": "middle", "font": "Liberation Sans", "fontSize": 26, "color": "black"},
       "encoding": {"x": {"field": "distance", "type": "quantitative"}, "y": {"field": "depth", "type": "quantitative"}, "text": {"field": "label"}}}
    ]
  }
]
}
